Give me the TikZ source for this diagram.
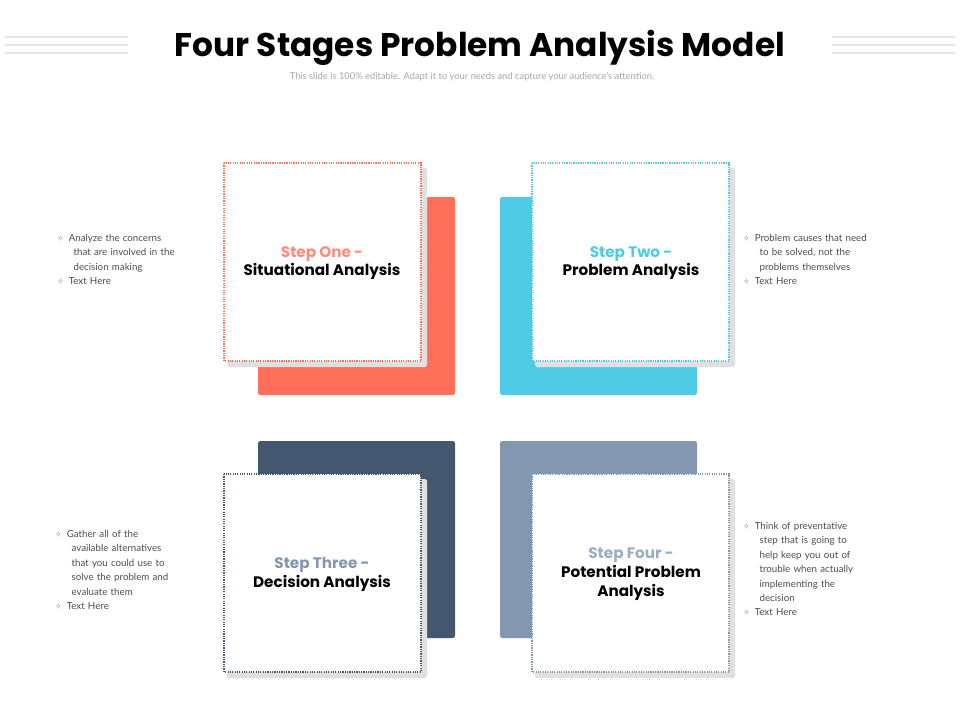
\documentclass[tikz,border=0pt]{standalone}
\usepackage{fontspec}
\setmainfont{Lato}
\newfontfamily\popfont{Poppins}
\newfontfamily\symfont{DejaVu Sans}
\definecolor{stepred}{HTML}{FF6F59}
\definecolor{stepcyan}{HTML}{4FCBE6}
\definecolor{stepdark}{HTML}{43576F}
\definecolor{stepgrey}{HTML}{8398B0}
\newcommand{\bul}{{\symfont\color{black!45}\fontsize{7}{7}\selectfont ✧}\hspace{4pt}}
\begin{document}
\begin{tikzpicture}[x=0.03cm, y=-0.03cm,
  backbox/.style={rounded corners=2pt},
  frontbox/.style={fill=white, densely dotted, line width=1pt},
  shade/.style={fill=black!12, rounded corners=2pt},
  steplabel/.style={font=\popfont\bfseries\fontsize{13}{16}\selectfont, align=center},
  bullets/.style={anchor=north west, text width=40mm, align=left, inner sep=0pt, text=black!70, font=\fontsize{8.3}{12.3}\selectfont},
  deco/.style={draw=black!10, line width=2.5pt}]
  \useasboundingbox (0,0) rectangle (960,720);
  % header
  \node[font=\popfont\bfseries\fontsize{28}{32}\selectfont] (title) at (480,48) {Four Stages Problem Analysis Model};
  \node[text=black!35, font=\fontsize{8}{10}\selectfont] (subtitle) at (472,77) {This slide is 100\% editable. Adapt it to your needs and capture your audience's attention.};
  \foreach \yy in {37,45,53} {
    \draw[deco] (5,\yy) -- (128,\yy);
    \draw[deco] (832,\yy) -- (955,\yy);
  }
  % back blocks
  \fill[backbox, stepred] (258,197) rectangle (455,395);
  \fill[backbox, stepcyan] (500,197) rectangle (697,395);
  \fill[backbox, stepdark] (258,441) rectangle (455,638);
  \fill[backbox, stepgrey] (500,441) rectangle (697,638);
  % front blocks
  \foreach \xa/\ya/\col [count=\i] in {224/163/stepred, 532/163/stepcyan, 224/474/stepdark, 532/474/stepgrey} {
    \fill[shade] (\xa+3,\ya+5) rectangle (\xa+203,\ya+204);
    \draw[frontbox, draw=\col] (\xa,\ya) rectangle (\xa+197,\ya+198);
  }
  \node[steplabel] (one) at (322,263) {\textcolor{stepred!80}{Step One -}\\Situational Analysis};
  \node[steplabel] (two) at (631,263) {\textcolor{stepcyan}{Step Two -}\\Problem Analysis};
  \node[steplabel] (three) at (322,574) {\textcolor{stepgrey}{Step Three -}\\Decision Analysis};
  \node[steplabel] (four) at (631,574) {\textcolor{stepgrey!80}{Step Four -}\\Potential Problem\\Analysis};
  % side notes
  \node[bullets, text width=44mm] (noteone) at (57,234) {\bul Analyze the concerns\\\hspace{14pt}that are involved in the\\\hspace{14pt}decision making\\\bul Text Here};
  \node[bullets] (notetwo) at (743,234) {\bul Problem causes that need\\\hspace{14pt}to be solved, not the\\\hspace{14pt}problems themselves\\\bul Text Here};
  \node[bullets] (notethree) at (55,530) {\bul Gather all of the\\\hspace{14pt}available alternatives\\\hspace{14pt}that you could use to\\\hspace{14pt}solve the problem and\\\hspace{14pt}evaluate them\\\bul Text Here};
  \node[bullets] (notefour) at (743,522) {\bul Think of preventative\\\hspace{14pt}step that is going to\\\hspace{14pt}help keep you out of\\\hspace{14pt}trouble when actually\\\hspace{14pt}implementing the\\\hspace{14pt}decision\\\bul Text Here};
\end{tikzpicture}
\end{document}
